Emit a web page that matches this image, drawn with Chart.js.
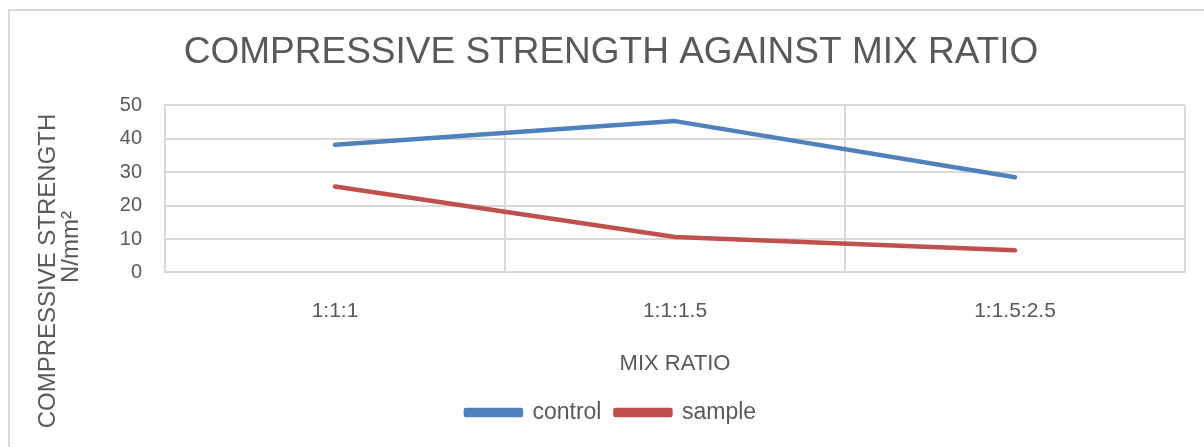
<!DOCTYPE html>
<html>
<head>
<meta charset="utf-8">
<script src="https://cdn.jsdelivr.net/npm/chart.js@4.4.1/dist/chart.umd.min.js"></script>
<style>
  body { margin: 0; background: #fff; overflow: hidden; }
  #frame { position: absolute; left: 8px; top: 9px; width: 1400px; height: 600px; border: 2px solid #d9d9d9; }
  #wrap { position: absolute; left: 0; top: 0; width: 1204px; height: 447px; }
</style>
</head>
<body>
<div id="frame"></div>
<div id="wrap"><canvas id="chart"></canvas></div>
<script>
var mixRatios = ['1:1:1', '1:1:1.5', '1:1.5:2.5'];
var controlValues = [38.2, 45.3, 28.5];
var sampleValues = [25.7, 10.6, 6.6];
var yTicks = [0, 10, 20, 30, 40, 50];

var textColor = '#595959';
var fontFamily = "'Liberation Sans', Arial, sans-serif";

// y axis title, two lines, drawn next to the axis
var yTitlePlugin = {
    id: 'yTitle',
    afterDraw: function(chart) {
        var ctx = chart.ctx;
        ctx.save();
        ctx.fillStyle = textColor;
        ctx.font = '24px ' + fontFamily;
        ctx.textAlign = 'center';
        ctx.textBaseline = 'middle';
        ctx.translate(48, 271);
        ctx.rotate(-Math.PI / 2);
        ctx.fillText('COMPRESSIVE STRENGTH', 0, 0);
        ctx.restore();
        ctx.save();
        ctx.fillStyle = textColor;
        ctx.font = '24px ' + fontFamily;
        ctx.textAlign = 'center';
        ctx.textBaseline = 'middle';
        ctx.translate(71, 247);
        ctx.rotate(-Math.PI / 2);
        ctx.fillText('N/mm\u00B2', 0, 0);
        ctx.restore();
    }
};

var ctx = document.getElementById('chart').getContext('2d');
var chart = new Chart(ctx, {
    type: 'line',
    data: {
        labels: mixRatios,
        datasets: [{
            label: 'control',
            data: controlValues,
            borderColor: '#4f81bd',
            backgroundColor: '#4f81bd',
            borderWidth: 4.5,
            borderCapStyle: 'round',
            borderJoinStyle: 'round',
            pointRadius: 0,
            tension: 0
        }, {
            label: 'sample',
            data: sampleValues,
            borderColor: '#c0504d',
            backgroundColor: '#c0504d',
            borderWidth: 4.5,
            borderCapStyle: 'round',
            borderJoinStyle: 'round',
            pointRadius: 0,
            tension: 0
        }]
    },
    options: {
        responsive: true,
        maintainAspectRatio: false,
        animation: false,
        layout: { padding: { left: 37, right: 19, top: 0, bottom: 13 } },
        plugins: {
            title: {
                display: true,
                text: 'COMPRESSIVE STRENGTH AGAINST MIX RATIO',
                color: textColor,
                font: { family: fontFamily, size: 37, weight: 'normal' },
                padding: { top: 31, bottom: 30 }
            },
            legend: {
                position: 'bottom',
                labels: {
                    color: textColor,
                    font: { family: fontFamily, size: 23 },
                    boxWidth: 55,
                    boxHeight: 5,
                    padding: 14
                }
            },
            tooltip: { enabled: false }
        },
        scales: {
            x: {
                offset: true,
                grid: { color: '#d9d9d9', lineWidth: 2, offset: true, drawTicks: false },
                border: { color: '#d9d9d9', width: 2 },
                ticks: { color: textColor, font: { family: fontFamily, size: 21 }, padding: 26 },
                title: {
                    display: true,
                    text: 'MIX RATIO',
                    color: textColor,
                    font: { family: fontFamily, size: 22 },
                    padding: { top: 1, bottom: 10 }
                }
            },
            y: {
                min: 0,
                max: 50,
                afterBuildTicks: function(scale) {
                    scale.ticks = yTicks.map(function(v) { return { value: v }; });
                },
                afterFit: function(scale) { scale.width = 128; },
                grid: { color: '#d9d9d9', lineWidth: 2, drawTicks: false },
                border: { color: '#d9d9d9', width: 2 },
                ticks: { color: textColor, font: { family: fontFamily, size: 20 }, padding: 23 }
            }
        }
    },
    plugins: [yTitlePlugin]
});
</script>
</body>
</html>
